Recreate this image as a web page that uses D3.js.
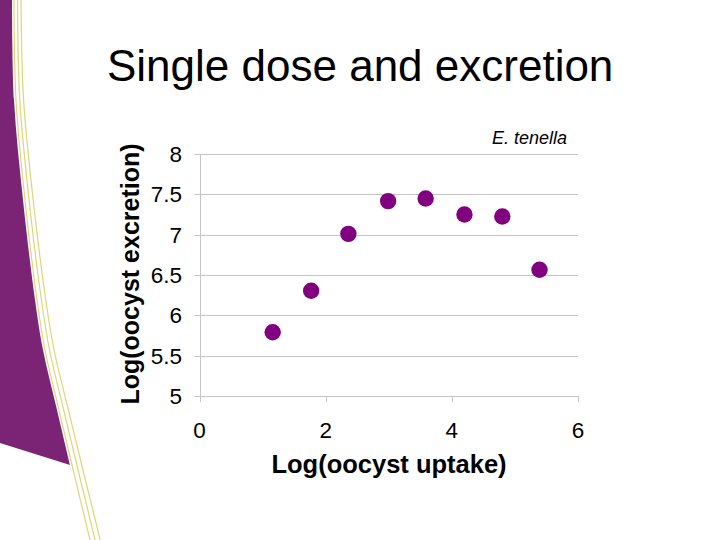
<!DOCTYPE html>
<html>
<head>
<meta charset="utf-8">
<script src="https://cdn.jsdelivr.net/npm/d3@7"></script>
<style>
  html, body { margin: 0; padding: 0; background: #ffffff; }
  svg { display: block; }
  text { font-family: "Liberation Sans", Arial, sans-serif; }
</style>
</head>
<body>
<svg id="chart" width="720" height="540"></svg>
<script>
// ---- data ----
const uptake    = [1.16, 1.77, 2.36, 2.99, 3.585, 4.20, 4.80, 5.39];
const excretion = [5.79, 6.305, 7.01, 7.416, 7.448, 7.25, 7.225, 6.566];
const xTicks = [0, 2, 4, 6];
const yTicks = [5, 5.5, 6, 6.5, 7, 7.5, 8];
const titleText = "Single dose and excretion";
const xTitle = "Log(oocyst uptake)";
const yTitle = "Log(oocyst excretion)";
const seriesLabel = "E. tenella";

const svg = d3.select("#chart");

// ---- slide decoration (left purple swoosh with yellow lines) ----
const edge = [[12,0],[14,100],[23,200],[35,300],[43,350],[57,410],[70,465]];
const lineGen = d3.line().curve(d3.curveCatmullRom.alpha(0.5));
const edgePath = lineGen(edge);
svg.append("path")
  .attr("d", "M0,0 " + edgePath.replace(/^M/, "L") + " L0,443 Z")
  .attr("fill", "#7b2476");
const ext = edge.concat([[88,540]]);
[2, 5.5, 9].forEach((off, i) => {
  const pts = ext.map(([x, y]) => [x + off + i * 1.6 * (y / 540), y]);
  svg.append("path")
    .attr("d", lineGen(pts))
    .attr("fill", "none")
    .attr("stroke", "#ddd67a")
    .attr("stroke-width", 1.2);
});

// ---- title ----
svg.append("text")
  .attr("x", 107).attr("y", 81)
  .attr("font-size", 44)
  .attr("fill", "#000")
  .text(titleText);

// ---- scales ----
const x = d3.scaleLinear().domain([0, 6]).range([199.5, 578]);
const y = d3.scaleLinear().domain([5, 8]).range([396, 154]);

// gridlines
svg.append("g").selectAll("line").data(yTicks).join("line")
  .attr("x1", x(0) - 5).attr("x2", x(6))
  .attr("y1", d => Math.round(y(d)) + 0.5).attr("y2", d => Math.round(y(d)) + 0.5)
  .attr("stroke", "#c4c4c4").attr("stroke-width", 1);

// y axis line
svg.append("line")
  .attr("x1", Math.round(x(0)) + 0.5).attr("x2", Math.round(x(0)) + 0.5)
  .attr("y1", y(8)).attr("y2", y(5))
  .attr("stroke", "#c4c4c4");

// x ticks
svg.append("g").selectAll("line").data(xTicks).join("line")
  .attr("x1", d => Math.round(x(d)) + 0.5).attr("x2", d => Math.round(x(d)) + 0.5)
  .attr("y1", y(5)).attr("y2", y(5) + 6)
  .attr("stroke", "#c4c4c4");

// y tick labels
svg.append("g").selectAll("text").data(yTicks).join("text")
  .attr("x", 182).attr("y", d => y(d) + 8)
  .attr("text-anchor", "end")
  .attr("font-size", 22.5)
  .attr("fill", "#000")
  .text(d => d);

// x tick labels
svg.append("g").selectAll("text").data(xTicks).join("text")
  .attr("x", d => x(d)).attr("y", 438)
  .attr("text-anchor", "middle")
  .attr("font-size", 22.5)
  .attr("fill", "#000")
  .text(d => d);

// axis titles
svg.append("text")
  .attr("x", 389).attr("y", 473)
  .attr("text-anchor", "middle")
  .attr("font-size", 25.5).attr("font-weight", "bold")
  .attr("fill", "#000")
  .text(xTitle);

svg.append("text")
  .attr("transform", "translate(139,274) rotate(-90)")
  .attr("text-anchor", "middle")
  .attr("font-size", 25).attr("font-weight", "bold")
  .attr("fill", "#000")
  .text(yTitle);

// series label
svg.append("text")
  .attr("x", 567).attr("y", 144)
  .attr("text-anchor", "end")
  .attr("font-size", 18).attr("font-style", "italic")
  .attr("fill", "#000")
  .text(seriesLabel);

// points
svg.append("g").selectAll("circle").data(uptake.map((u, i) => [u, excretion[i]])).join("circle")
  .attr("cx", d => x(d[0])).attr("cy", d => y(d[1]))
  .attr("r", 8.2)
  .attr("fill", "#800080");
</script>
</body>
</html>
